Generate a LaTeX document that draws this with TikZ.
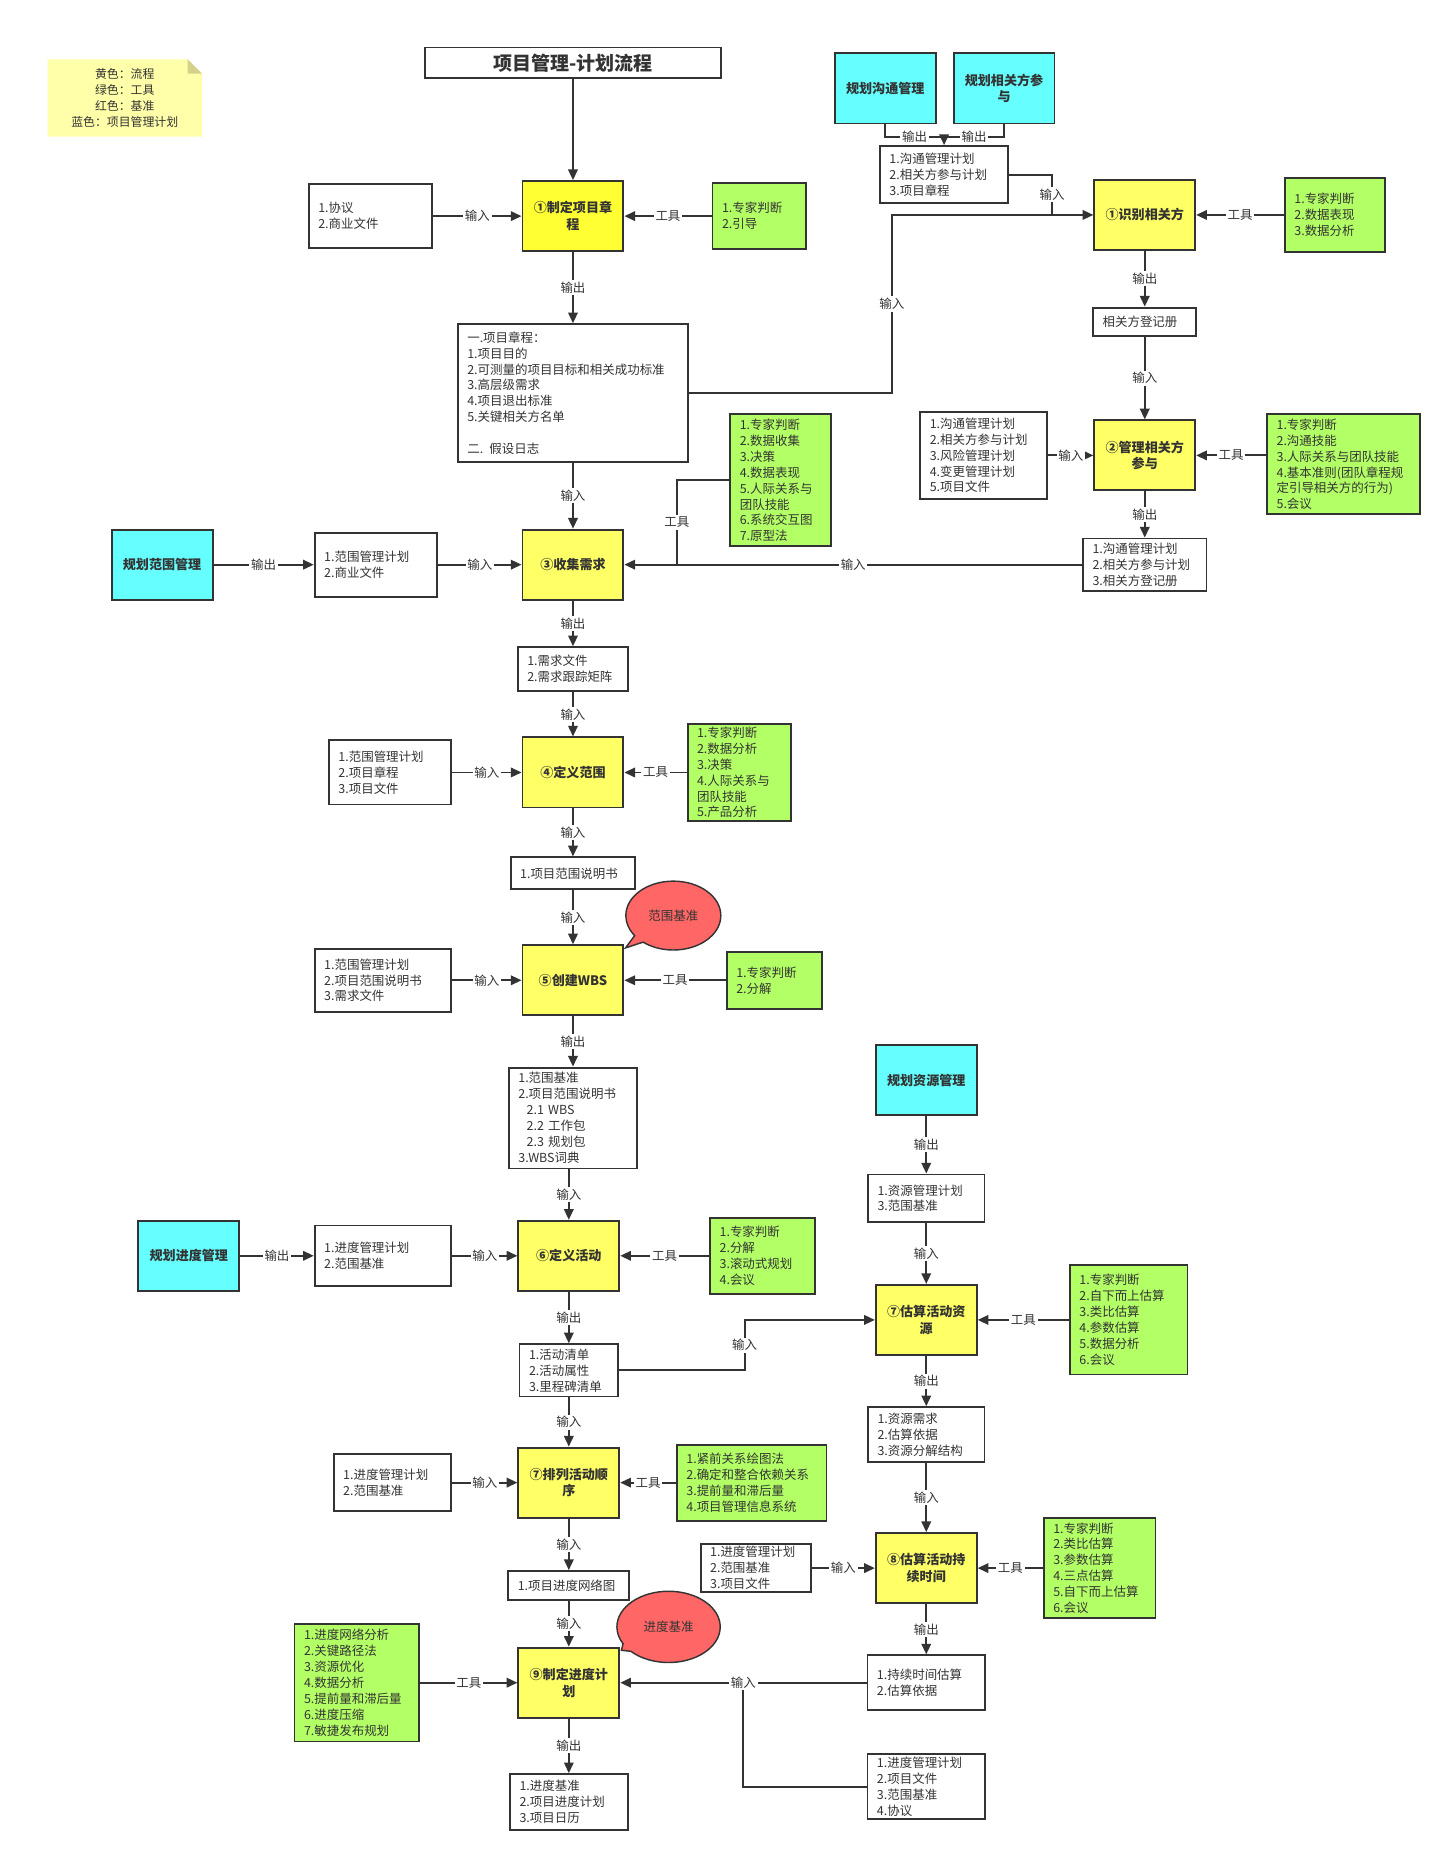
\documentclass[tikz,border=0pt]{standalone}
\usepackage{fontspec}
\setmainfont{Noto Sans CJK SC}
\usepackage{tikz}
\usetikzlibrary{arrows.meta,shapes.callouts,shapes.geometric}
\definecolor{linec}{HTML}{333333}
\definecolor{procA}{HTML}{FFFF33}
\definecolor{procB}{HTML}{FFFF66}
\definecolor{toolc}{HTML}{B3FF66}
\definecolor{planc}{HTML}{66FFFF}
\definecolor{basec}{HTML}{FF6666}
\definecolor{notec}{HTML}{FFFFAA}
\definecolor{foldc}{HTML}{D2D28A}

\begin{document}
\begin{tikzpicture}[x=1pt,y=-1pt,color=linec,line width=1.6pt,
  proc/.style={draw,fill=procB,minimum width=85pt,minimum height=59pt,inner sep=1pt,align=center,font=\fontsize{11}{14}\selectfont\bfseries},
  plan/.style={proc,fill=planc},
  lst/.style 2 args={draw,fill=white,text width=#1,minimum height=#2,inner xsep=8pt,inner ysep=1pt,align=left,font=\fontsize{10.5}{13.4}\selectfont},
  tool/.style 2 args={lst={#1}{#2},fill=toolc},
  lbl/.style={fill=white,inner sep=1.5pt,font=\fontsize{10.5}{12}\selectfont},
  arr/.style={-{Triangle[length=9pt,width=8pt]}},
  base/.style={ellipse callout,draw,fill=basec,line width=1.2pt,minimum width=80pt,minimum height=58pt,font=\fontsize{10.5}{12}\selectfont}]
  \useasboundingbox (0,0) rectangle (1222,1568);

  \fill[notec] (40,50) -- (158,50) -- (170,62) -- (170,115) -- (40,115) -- cycle;
  \fill[foldc] (158,50) -- (170,62) -- (158,62) -- cycle;
  \node[align=center,font=\fontsize{10}{13.6}\selectfont] (legend) at (105,82.5) {黄色：流程\\绿色：工具\\红色：基准\\蓝色：项目管理计划};

  \node[draw,fill=white,minimum width=249pt,minimum height=26pt,font=\fontsize{16}{18}\selectfont\bfseries] (title) at (482.5,53) {项目管理-计划流程};

  \node[proc,fill=procA] (dev) at (482.5,182) {①制定项目章\\程};
  \node[lst={88pt}{54pt}] (devin) at (312,182) {1.协议\\2.商业文件};
  \node[tool={63pt}{56pt}] (devtool) at (639.5,182) {1.专家判断\\2.引导};
  \node[lst={178pt}{116pt}] (charter) at (482.5,331) {一.项目章程：\\1.项目目的\\2.可测量的项目目标和相关成功标准\\3.高层级需求\\4.项目退出标准\\5.关键相关方名单\\[13.4pt]二. 假设日志};

  \node[plan] (commplan) at (745.5,74.5) {规划沟通管理};
  \node[plan] (stkplan) at (845.5,74.5) {规划相关方参\\与};
  \node[lst={92pt}{48pt}] (identin) at (795,147) {1.沟通管理计划\\2.相关方参与计划\\3.项目章程};
  \node[proc] (ident) at (964,181) {①识别相关方};
  \node[tool={68pt}{62pt}] (identtool) at (1124,181) {1.专家判断\\2.数据表现\\3.数据分析};
  \node[lst={71pt}{24pt}] (register) at (964,271) {相关方登记册};
  \node[proc] (engage) at (964,383.5) {②管理相关方\\参与};
  \node[lst={91pt}{73pt}] (engagein) at (828.5,383.5) {1.沟通管理计划\\2.相关方参与计划\\3.风险管理计划\\4.变更管理计划\\5.项目文件};
  \node[tool={113pt}{84pt}] (engagetool) at (1131.5,391) {1.专家判断\\2.沟通技能\\3.人际关系与团队技能\\4.基本准则(团队章程规\\定引导相关方的行为)\\5.会议};
  \node[lst={88pt}{44pt}] (engageout) at (964,475.5) {1.沟通管理计划\\2.相关方参与计划\\3.相关方登记册};

  \node[proc] (collect) at (482.5,475.5) {③收集需求};
  \node[tool={69pt}{111pt}] (collecttool) at (657.5,404.5) {1.专家判断\\2.数据收集\\3.决策\\4.数据表现\\5.人际关系与\\团队技能\\6.系统交互图\\7.原型法};
  \node[plan] (scopeplan) at (136.5,475.5) {规划范围管理};
  \node[lst={87pt}{54pt}] (collectin) at (316.5,475.5) {1.范围管理计划\\2.商业文件};
  \node[lst={77pt}{37pt}] (collectout) at (482.5,563.5) {1.需求文件\\2.需求跟踪矩阵};

  \node[proc] (scope) at (482.5,650.5) {④定义范围};
  \node[lst={87pt}{54pt}] (scopein) at (328.5,650.5) {1.范围管理计划\\2.项目章程\\3.项目文件};
  \node[tool={71pt}{82pt}] (scopetool) at (622.5,650.5) {1.专家判断\\2.数据分析\\3.决策\\4.人际关系与\\团队技能\\5.产品分析};
  \node[lst={89pt}{27pt}] (scopeout) at (482.5,735.5) {1.项目范围说明书};

  \node[proc] (wbs) at (482.5,825.5) {⑤创建WBS};
  \node[lst={99pt}{53pt}] (wbsin) at (322.5,825.5) {1.范围管理计划\\2.项目范围说明书\\3.需求文件};
  \node[tool={64pt}{48pt}] (wbstool) at (652,825.5) {1.专家判断\\2.分解};
  \node[lst={92pt}{85pt}] (wbsout) at (482.5,941.5) {1.范围基准\\2.项目范围说明书\\\hspace*{7pt}2.1 WBS\\\hspace*{7pt}2.2 工作包\\\hspace*{7pt}2.3 规划包\\3.WBS词典};
  \node[base,callout absolute pointer={([xshift=1pt,yshift=-3pt]wbs.north east)}] (scopebase) at (567,771) {范围基准};

  \node[proc] (actdef) at (479,1057.5) {⑥定义活动};
  \node[plan] (schedplan) at (159,1057.5) {规划进度管理};
  \node[lst={99pt}{51pt}] (actdefin) at (322.5,1057.5) {1.进度管理计划\\2.范围基准};
  \node[tool={72pt}{64pt}] (actdeftool) at (642,1057.5) {1.专家判断\\2.分解\\3.滚动式规划\\4.会议};
  \node[lst={67pt}{44pt}] (actdefout) at (479,1154) {1.活动清单\\2.活动属性\\3.里程碑清单};

  \node[plan] (resplan) at (780,909.5) {规划资源管理};
  \node[lst={82pt}{40pt}] (resplanout) at (780,1009) {1.资源管理计划\\3.范围基准};
  \node[proc] (resest) at (780,1111.5) {⑦估算活动资\\源};
  \node[tool={83pt}{92pt}] (resesttool) at (950.5,1111.5) {1.专家判断\\2.自下而上估算\\3.类比估算\\4.参数估算\\5.数据分析\\6.会议};
  \node[lst={82pt}{46pt}] (resestout) at (780,1208) {1.资源需求\\2.估算依据\\3.资源分解结构};

  \node[proc] (seq) at (479,1248.5) {⑦排列活动顺\\序};
  \node[lst={83pt}{48pt}] (seqin) at (330.5,1248.5) {1.进度管理计划\\2.范围基准};
  \node[tool={110pt}{64pt}] (seqtool) at (633,1248.5) {1.紧前关系绘图法\\2.确定和整合依赖关系\\3.提前量和滞后量\\4.项目管理信息系统};
  \node[lst={86pt}{24pt}] (seqout) at (479,1335) {1.项目进度网络图};

  \node[proc] (durest) at (780,1320.5) {⑧估算活动持\\续时间};
  \node[lst={77pt}{40pt}] (durestin) at (636.5,1320.5) {1.进度管理计划\\2.范围基准\\3.项目文件};
  \node[tool={78pt}{84pt}] (duresttool) at (926,1320.5) {1.专家判断\\2.类比估算\\3.参数估算\\4.三点估算\\5.自下而上估算\\6.会议};
  \node[lst={83pt}{46pt}] (durestout) at (780,1417) {1.持续时间估算\\2.估算依据};
  \node[lst={83pt}{55pt}] (schedin) at (780,1504.5) {1.进度管理计划\\2.项目文件\\3.范围基准\\4.协议};

  \node[proc] (sched) at (479,1417) {⑨制定进度计\\划};
  \node[tool={89pt}{99pt}] (schedtool) at (300.5,1417) {1.进度网络分析\\2.关键路径法\\3.资源优化\\4.数据分析\\5.提前量和滞后量\\6.进度压缩\\7.敏捷发布规划};
  \node[lst={83pt}{47pt}] (schedout) at (479,1517.5) {1.进度基准\\2.项目进度计划\\3.项目日历};
  \node[base,minimum width=87pt,minimum height=60pt,callout absolute pointer={([xshift=1pt,yshift=-3pt]sched.north east)}] (schedbase) at (563,1370) {进度基准};

  \coordinate (j1) at (751,331);
  \coordinate (j2) at (795,115);
  \coordinate (j3) at (886,181);
  \coordinate (j4) at (570,475.5);
  \coordinate (j5) at (627,1154);
  \coordinate (j6) at (626,1417);

  \draw[arr] (title) -- (dev);
  \draw[arr] (devin) -- node[lbl]{输入} (dev);
  \draw[arr] (devtool) -- node[lbl]{工具} (dev);
  \draw[arr] (dev) -- node[lbl]{输出} (charter);
  \draw (commplan) |- node[lbl,pos=.75]{输出} (j2);
  \draw (stkplan) |- node[lbl,pos=.75]{输出} (j2);
  \draw[arr] (j2) -- (identin);
  \draw (identin) -| node[lbl,pos=.75]{输入} (j3);
  \draw[arr] (charter.east) -- (j1) |- node[lbl,pos=.25]{输入} (ident);
  \draw[arr] (identtool) -- node[lbl]{工具} (ident);
  \draw[arr] (ident) -- node[lbl]{输出} (register);
  \draw[arr] (register) -- node[lbl]{输入} (engage);
  \draw[arr] (engagein) -- node[lbl]{输入} (engage);
  \draw[arr] (engagetool.west |- engage) -- node[lbl]{工具} (engage);
  \draw[arr] (engage) -- node[lbl]{输出} (engageout);
  \draw (collecttool) -| node[lbl,pos=.75]{工具} (j4);
  \draw[arr] (engageout) -- node[lbl]{输入} (collect);
  \draw[arr] (charter) -- node[lbl]{输入} (collect);
  \draw[arr] (scopeplan) -- node[lbl]{输出} (collectin);
  \draw[arr] (collectin) -- node[lbl]{输入} (collect);
  \draw[arr] (collect) -- node[lbl]{输出} (collectout);
  \draw[arr] (collectout) -- node[lbl]{输入} (scope);
  \draw[arr] (scopein) -- node[lbl]{输入} (scope);
  \draw[arr] (scopetool) -- node[lbl]{工具} (scope);
  \draw[arr] (scope) -- node[lbl]{输入} (scopeout);
  \draw[arr] (scopeout) -- node[lbl]{输入} (wbs);
  \draw[arr] (wbsin) -- node[lbl]{输入} (wbs);
  \draw[arr] (wbstool) -- node[lbl]{工具} (wbs);
  \draw[arr] (wbs) -- node[lbl]{输出} (wbsout);
  \draw[arr] (wbsout.south -| actdef) -- node[lbl]{输入} (actdef);
  \draw[arr] (schedplan) -- node[lbl]{输出} (actdefin);
  \draw[arr] (actdefin) -- node[lbl]{输入} (actdef);
  \draw[arr] (actdeftool) -- node[lbl]{工具} (actdef);
  \draw[arr] (actdef) -- node[lbl]{输出} (actdefout);
  \draw[arr] (actdefout) -- (j5) |- node[lbl,pos=.25]{输入} (resest);
  \draw[arr] (actdefout) -- node[lbl]{输入} (seq);
  \draw[arr] (resplan) -- node[lbl]{输出} (resplanout);
  \draw[arr] (resplanout) -- node[lbl]{输入} (resest);
  \draw[arr] (resesttool) -- node[lbl]{工具} (resest);
  \draw[arr] (resest) -- node[lbl]{输出} (resestout);
  \draw[arr] (resestout) -- node[lbl]{输入} (durest);
  \draw[arr] (seqin) -- node[lbl]{输入} (seq);
  \draw[arr] (seqtool) -- node[lbl]{工具} (seq);
  \draw[arr] (seq) -- node[lbl]{输入} (seqout);
  \draw[arr] (seqout) -- node[lbl]{输入} (sched);
  \draw[arr] (durestin) -- node[lbl]{输入} (durest);
  \draw[arr] (duresttool) -- node[lbl]{工具} (durest);
  \draw[arr] (durest) -- node[lbl]{输出} (durestout);
  \draw (schedin) -| (j6);
  \draw[arr] (durestout) -- node[lbl]{输入} (sched);
  \draw[arr] (schedtool) -- node[lbl]{工具} (sched);
  \draw[arr] (sched) -- node[lbl]{输出} (schedout);
\end{tikzpicture}
\end{document}
